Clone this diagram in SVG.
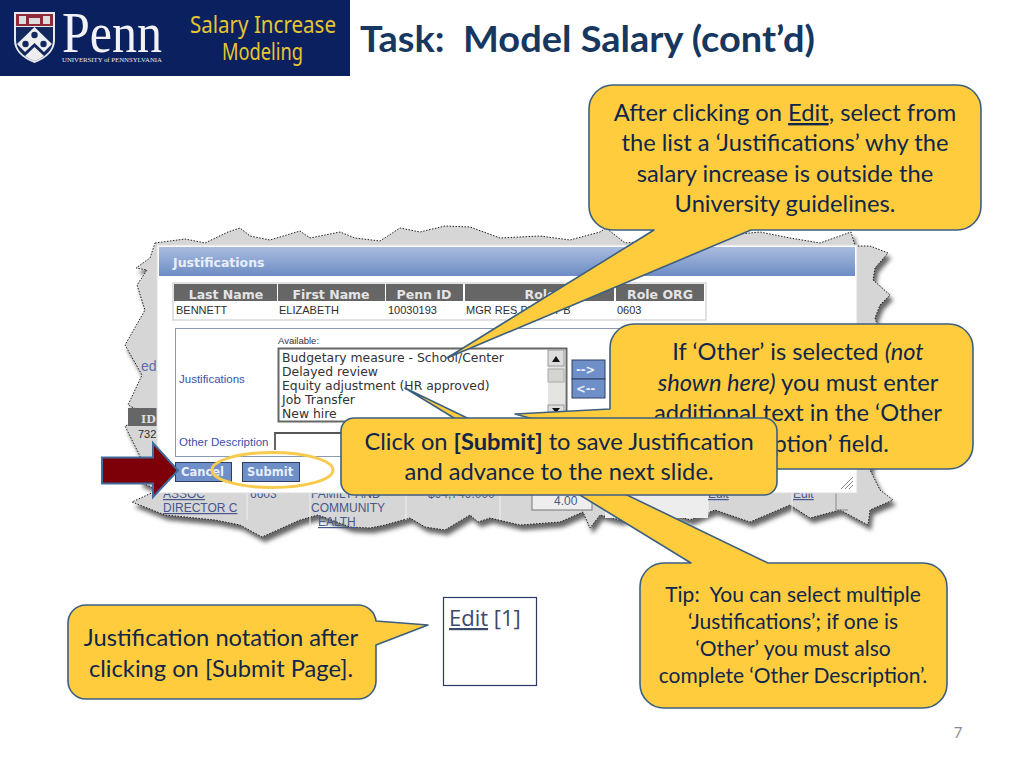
<svg xmlns="http://www.w3.org/2000/svg" width="1024" height="768" viewBox="0 0 1024 768">
<style>
.c{fill:#ffcc3e;stroke:#3c5f80;stroke-width:1.6;stroke-linejoin:round}
.t{font-family:Lato,"Open Sans",sans-serif;fill:#10264a;text-anchor:middle}
.a{font-size:23.7px}.s{font-size:21px}
.th{font-family:"DejaVu Sans",sans-serif;font-weight:bold;font-size:12.5px;fill:#e4e4e4;text-anchor:middle}
.td{font-family:"Liberation Sans",sans-serif;font-size:11px;fill:#2e2e2e}
.li{font-family:"DejaVu Sans",sans-serif;font-size:12.4px;fill:#333}
.lb{font-family:"Liberation Sans",sans-serif;font-size:11.5px;fill:#3a52a8}
.lk{font-family:"Liberation Sans",sans-serif;font-size:12px;fill:#46588a}
.btn{fill:#6f8fc8;stroke:#2e3f60;stroke-width:1}
.bt{font-family:"DejaVu Sans",sans-serif;font-weight:bold;font-size:11.5px;fill:#e8eefa}
</style>
<defs>
<linearGradient id="tb" x1="0" y1="0" x2="0" y2="1"><stop offset="0" stop-color="#a9bcdf"/><stop offset="1" stop-color="#6d8cc4"/></linearGradient>
<filter id="sh" x="-5%" y="-5%" width="110%" height="115%"><feDropShadow dx="3" dy="5" stdDeviation="2" flood-color="#333" flood-opacity=".75"/></filter>
</defs>
<rect width="1024" height="768" fill="#fff"/>
<g id="header">
<rect width="350" height="76" fill="#0b215f"/>
<path d="M14 12H55V40Q55 55 34.500 63Q14 55 14 40Z" fill="#e8e8ee"/>
<rect x="16" y="14" width="37" height="12" fill="#8d2a3a"/>
<path d="M19 16h7v8h-7zM29 18h11v6h-11zM43 16h7v8h-7z" fill="#ddd"/>
<path d="M16 27H53V40Q53 54 34.500 61Q16 54 16 40Z" fill="#13285f"/>
<path d="M34.500 27L52 44L44 52L34.500 43L25 52L17 44Z" fill="#eee"/>
<path d="M34.500 47L44 56Q40 59 34.500 61Q29 59 25 56Z" fill="#eee"/>
<circle cx="34.500" cy="35" r="3.200" fill="#13285f"/><circle cx="25.500" cy="44" r="3.200" fill="#13285f"/><circle cx="43.500" cy="44" r="3.200" fill="#13285f"/>
<text x="62" y="52" font-family="'Liberation Serif',serif" font-size="57" fill="#f2f2f6" textLength="100" lengthAdjust="spacingAndGlyphs">Penn</text>
<text x="62" y="62" font-family="'Liberation Serif',serif" font-size="6.800" fill="#e8e8ee" textLength="100" lengthAdjust="spacingAndGlyphs">UNIVERSITY of PENNSYLVANIA</text>
<text x="190" y="33" font-family="'Noto Sans',sans-serif" font-size="24" fill="#e6c533" textLength="146" lengthAdjust="spacingAndGlyphs">Salary Increase</text>
<text x="222" y="60" font-family="'Noto Sans',sans-serif" font-size="24" fill="#e6c533" textLength="81" lengthAdjust="spacingAndGlyphs">Modeling</text>
</g>
<text id="title" x="360" y="52" font-family="Lato,sans-serif" font-weight="bold" font-size="35.500" fill="#17375e" xml:space="preserve" textLength="455" lengthAdjust="spacingAndGlyphs">Task:  Model Salary (cont’d)</text>
<text id="page" x="958" y="738" font-family="Lato,sans-serif" font-size="15" fill="#8a8a8a" text-anchor="middle">7</text>

<g id="screenshot">
<path filter="url(#sh)" d="M155 243L185 239L205 243L228 232L240 228L250 236L270 240L300 231L310 238L340 232L355 238L380 241L400 228L420 232L445 226L470 227L500 238L540 236L570 240L600 232L606 228L625 243L660 240L700 238L760 232L790 238L820 243L851 232L855 246L870 246L888 253L875 268L873 280L890 295L880 305L875 318L882 340L885 400L878 440L870 470L880 490L893 500L870 510L868 525L840 510L810 518L790 505L750 522L715 510L690 520L660 510L620 520L600 515L590 528L583 512L560 522L520 525L490 518L478 522L470 515L445 530L425 527L410 518L385 525L370 528L350 527L318 515L300 520L262 537L240 525L215 520L165 515L132 502L158 490L140 482L142 460L125 426L150 416L128 405L142 375L125 345L145 310L137 285L147 270L136 268L150 258Z" fill="#d6d6d6" stroke="#222" stroke-width="1" stroke-dasharray="1.500 1.500"/>
<rect x="605" y="493" width="103" height="25" fill="#ededed"/>
<path d="M128 408H157V426H128Z" fill="#666"/>
<text x="141" y="423" font-family="'DejaVu Serif',serif" font-weight="bold" font-size="11" fill="#ddd">ID</text>
<text x="141" y="371" font-family="'Liberation Sans',sans-serif" font-size="14" fill="#5a70b0">ed,</text>
<text x="138" y="438" class="td">732</text>
<path d="M247 493V520M310 493V530M406 493V520M500 493V520M708 493V515M792 493V515" stroke="#eee" fill="none"/>
<text x="163" y="498" class="lk" text-decoration="underline">ASSOC</text>
<text x="163" y="512" class="lk" text-decoration="underline">DIRECTOR C</text>
<text x="250" y="498" class="lk">6603</text>
<text x="311" y="498" class="lk">FAMILY AND</text>
<text x="311" y="512" class="lk">COMMUNITY</text>
<text x="318" y="526" class="lk" text-decoration="underline">EALTH</text>
<text x="428" y="498" class="lk">$94,749.000</text>
<rect x="532" y="488" width="60" height="22" fill="#eee" stroke="#777"/>
<text x="554" y="505" class="lk">4.00</text>
<text x="708" y="498" class="lk" text-decoration="underline">Edit</text>
<text x="793" y="498" class="lk" text-decoration="underline">Edit</text>
<path d="M836 488V510H848" fill="none" stroke="#888"/>
</g>

<g id="dialog">
<rect x="157" y="245" width="700" height="248" fill="#fff" stroke="#dcdcdc"/>
<rect x="159" y="247" width="696" height="29" fill="url(#tb)"/>
<text x="173" y="267" font-family="'DejaVu Sans',sans-serif" font-weight="bold" font-size="12.500" fill="#e8eefa">Justifications</text>
<rect x="173" y="283" width="533" height="37" fill="#fff" stroke="#d8d8d8" stroke-width="1.500"/>
<path fill="#666" d="M174 284H277V301H174ZM278 284H385V301H278ZM386 284H463V301H386ZM465 284H614V301H465ZM616 284H704V301H616Z"/>
<text x="226" y="299" class="th">Last Name</text>
<text x="331" y="299" class="th">First Name</text>
<text x="424" y="299" class="th">Penn ID</text>
<text x="540" y="299" class="th">Role</text>
<text x="660" y="299" class="th">Role ORG</text>
<text x="176" y="314" class="td">BENNETT</text>
<text x="279" y="314" class="td">ELIZABETH</text>
<text x="388" y="314" class="td">10030193</text>
<text x="466" y="314" class="td">MGR RES PR</text>
<text x="553" y="314" class="td">Y B</text>
<text x="617" y="314" class="td">0603</text>
<rect x="175.500" y="328.500" width="531" height="128" fill="#fff" stroke="#8a9ab5"/>
<text x="179" y="383" class="lb">Justifications</text>
<text x="278" y="344" font-family="'Liberation Sans',sans-serif" font-size="9.500" fill="#333">Available:</text>
<rect x="278.500" y="348.500" width="288" height="73" fill="#fff" stroke="#666" stroke-width="2"/>
<text x="282" y="362" class="li">Budgetary measure - School/Center</text>
<text x="282" y="376" class="li">Delayed review</text>
<text x="282" y="390" class="li">Equity adjustment (HR approved)</text>
<text x="282" y="404" class="li">Job Transfer</text>
<text x="282" y="418" class="li">New hire</text>
<rect x="548" y="350" width="17" height="70" fill="#e4e4e0"/>
<rect x="548" y="350" width="16" height="16" fill="#ddd" stroke="#999"/>
<path d="M552 362L556 356L560 362Z" fill="#111"/>
<rect x="548" y="369" width="16" height="13" fill="#d4d4d0" stroke="#aaa"/>
<rect x="548" y="405" width="16" height="15" fill="#ddd" stroke="#999"/>
<path d="M552 408L556 413L560 408Z" fill="#111"/>
<rect x="572" y="360" width="33" height="19" class="btn"/>
<rect x="572" y="379" width="33" height="19" class="btn"/>
<text x="576" y="374" class="bt">--&gt;</text>
<text x="576" y="393" class="bt">&lt;--</text>
<text x="617" y="344" font-family="'Liberation Sans',sans-serif" font-size="9.500" fill="#333">S</text>
<rect x="618.500" y="349" width="60" height="70" fill="#fff" stroke="#666" stroke-width="2"/>
<text x="179" y="446" class="lb">Other Description</text>
<path d="M275 450V433H400" fill="#fff" stroke="#555" stroke-width="1.800"/>
<rect x="175.500" y="462.500" width="56" height="19" class="btn"/>
<rect x="242.500" y="462.500" width="57" height="19" class="btn"/>
<text x="181" y="476" class="bt">Cancel</text>
<text x="247" y="476" class="bt">Submit</text>
<path d="M841 489L853 477M845 489L853 481M849 489L853 485" stroke="#888" fill="none"/>
</g>

<ellipse id="oval" cx="272.500" cy="470" rx="60.500" ry="17.500" fill="none" stroke="#f7cb4d" stroke-width="3"/>
<path id="arrow" d="M102 457.500H153V443L178 470.500L153 497V483.500H102Z" fill="#7d0008" stroke="#3f6c9c" stroke-width="2"/>

<g id="connectors"></g>

<g id="callout-top">
<path class="c" d="M613 85H957A24 24 0 0 1 981 109V206A24 24 0 0 1 957 230H751L447 358L654 230H613A24 24 0 0 1 589 206V109A24 24 0 0 1 613 85Z"/>
<text class="t a" x="785" y="121">After clicking on <tspan text-decoration="underline">Edit</tspan>, select from</text>
<text class="t a" x="785" y="151">the list a ‘Justifications’ why the</text>
<text class="t a" x="785" y="182">salary increase is outside the</text>
<text class="t a" x="785" y="212">University guidelines.</text>
</g>
<g id="callout-other">
<path class="c" d="M634 324H949A24 24 0 0 1 973 348V445A24 24 0 0 1 949 469H634A24 24 0 0 1 610 445V440L515 414L610 409V348A24 24 0 0 1 634 324Z"/>
<text class="t a" x="798" y="360">If ‘Other’ is selected <tspan font-style="italic">(not</tspan></text>
<text class="t a" x="798" y="391"><tspan font-style="italic">shown here)</tspan> you must enter</text>
<text class="t a" x="798" y="421">additional text in the ‘Other</text>
<text class="t a" x="798" y="452">Description’ field.</text>
</g>
<g id="callout-tip">
<path class="c" d="M664 563H691L405 388L768 563H923A24 24 0 0 1 947 587V684A24 24 0 0 1 923 708H664A24 24 0 0 1 640 684V587A24 24 0 0 1 664 563Z"/>
<text class="t s" x="793" y="602" xml:space="preserve">Tip:  You can select multiple</text>
<text class="t s" x="793" y="629">‘Justifications’; if one is</text>
<text class="t s" x="793" y="656">‘Other’ you must also</text>
<text class="t s" x="793" y="683">complete ‘Other Description’.</text>
</g>
<g id="callout-submit">
<rect class="c" x="341" y="418" width="436" height="77" rx="13"/>
<text class="t a" x="559" y="450">Click on <tspan font-weight="bold">[Submit]</tspan> to save Justification</text>
<text class="t a" x="559" y="480">and advance to the next slide.</text>
</g>
<g id="callout-note">
<path class="c" d="M86 605H358A18 18 0 0 1 376 621L428 625L376 645V681A18 18 0 0 1 358 699H86A18 18 0 0 1 68 681V623A18 18 0 0 1 86 605Z"/>
<text class="t a" x="221" y="646">Justification notation after</text>
<text class="t a" x="221" y="677">clicking on [Submit Page].</text>
</g>
<g id="edit-box">
<rect x="443.500" y="597.500" width="93" height="88" fill="#fff" stroke="#2b3b66" stroke-width="1.200"/>
<text x="449" y="626" font-family="'Open Sans',sans-serif" font-size="22" fill="#3a4a6a"><tspan text-decoration="underline">Edit</tspan> [1]</text>
</g>
</svg>
